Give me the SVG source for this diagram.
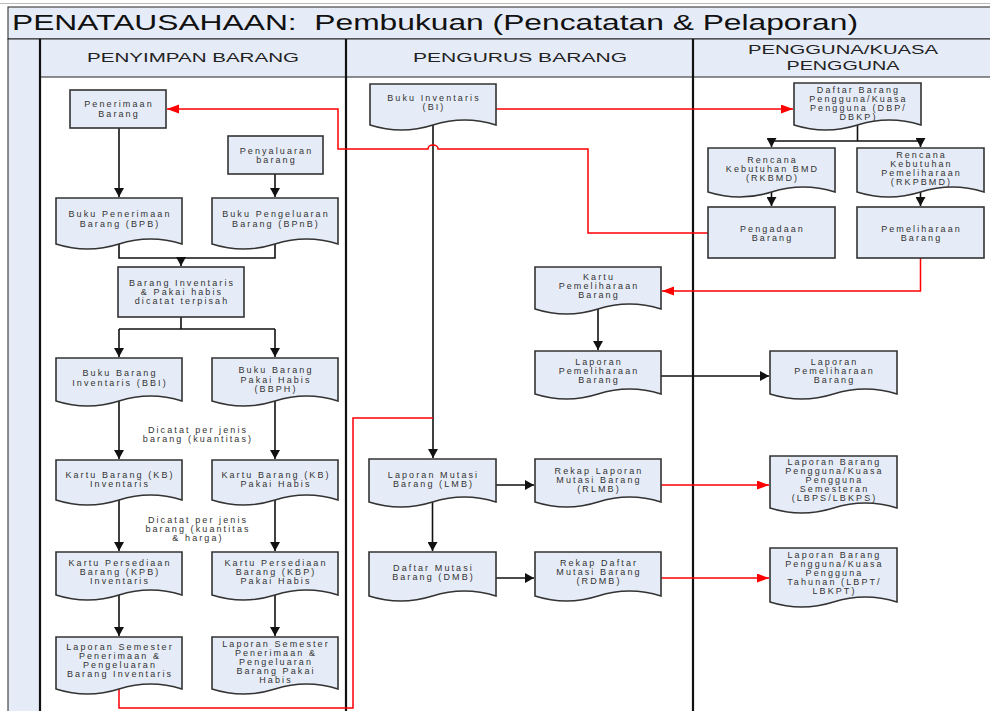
<svg xmlns="http://www.w3.org/2000/svg" width="990" height="711" viewBox="0 0 990 711">
<defs>
<style>
.t{font-family:"Liberation Sans",Arial,sans-serif;font-size:9px;letter-spacing:2.1px;fill:#333;text-anchor:middle}
.h{font-family:"Liberation Sans",Arial,sans-serif;font-size:12.8px;fill:#222;text-anchor:middle}
.node{fill:#e6ecf7;stroke:#333;stroke-width:1.6}
.k{fill:none;stroke:#111;stroke-width:1.6}
.r{fill:none;stroke:#ff0000;stroke-width:1.5}
.lane{stroke:#111;stroke-width:2.2}
</style>
<marker id="ab" markerUnits="userSpaceOnUse" markerWidth="10" markerHeight="10" refX="9" refY="5" orient="auto"><path d="M0,0 L9,5 L0,10 Z" fill="#111"/></marker>
<marker id="ar" markerUnits="userSpaceOnUse" markerWidth="12" markerHeight="10" refX="12" refY="4.5" orient="auto"><path d="M0,0 L12,4.5 L0,9 Z" fill="#ff0000"/></marker>
</defs>
<rect x="0" y="0" width="990" height="711" fill="#fff"/>
<g id="frame">
<line x1="0" y1="3.5" x2="990" y2="3.5" stroke="#bbb" stroke-width="1"/>
<rect x="8" y="7" width="990" height="32" fill="#e6ecf7" stroke="#222" stroke-width="1"/>
<rect x="8" y="39" width="32" height="680" fill="#e6ecf7" stroke="#222" stroke-width="1"/>
<rect x="40" y="39" width="960" height="38" fill="#e6ecf7" stroke="#222" stroke-width="1"/>
<line class="lane" x1="40" y1="39" x2="40" y2="711"/>
<line class="lane" x1="346" y1="39" x2="346" y2="711"/>
<line class="lane" x1="693" y1="39" x2="693" y2="711"/>
<text x="12" y="30" font-family="Liberation Sans,Arial,sans-serif" font-size="22" fill="#111" xml:space="preserve" textLength="846" lengthAdjust="spacingAndGlyphs">PENATAUSAHAAN:  Pembukuan (Pencatatan &amp; Pelaporan)</text>
<text class="h" x="193" y="62" textLength="212" lengthAdjust="spacingAndGlyphs">PENYIMPAN BARANG</text>
<text class="h" x="520" y="62" textLength="214" lengthAdjust="spacingAndGlyphs">PENGURUS BARANG</text>
<text class="h" x="843" y="54" textLength="190" lengthAdjust="spacingAndGlyphs">PENGGUNA/KUASA</text>
<text class="h" x="843" y="69.5" textLength="113" lengthAdjust="spacingAndGlyphs">PENGGUNA</text>
</g>
<g id="connectors">
<path class="k" d="M119,128 V197" marker-end="url(#ab)"/>
<path class="k" d="M275,174 V197" marker-end="url(#ab)"/>
<path class="k" d="M119,244 V258 H275 V244"/>
<path class="k" d="M181,258 V266" marker-end="url(#ab)"/>
<path class="k" d="M181,317 V329 M119,329 H275"/>
<path class="k" d="M119,329 V357" marker-end="url(#ab)"/>
<path class="k" d="M275,329 V357" marker-end="url(#ab)"/>
<path class="k" d="M119,401 V459" marker-end="url(#ab)"/>
<path class="k" d="M275,401 V459" marker-end="url(#ab)"/>
<path class="k" d="M119,500 V551" marker-end="url(#ab)"/>
<path class="k" d="M275,500 V551" marker-end="url(#ab)"/>
<path class="k" d="M119,595 V636" marker-end="url(#ab)"/>
<path class="k" d="M275,595 V636" marker-end="url(#ab)"/>
<path class="k" d="M433,125 V458" stroke="#333" stroke-width="2" marker-end="url(#ab)"/>
<path class="k" d="M598,309 V350" marker-end="url(#ab)"/>
<path class="k" d="M661,376 H769" stroke="#444" marker-end="url(#ab)"/>
<path class="k" d="M496,485 H534" marker-end="url(#ab)"/>
<path class="k" d="M432.5,502 V551" marker-end="url(#ab)"/>
<path class="k" d="M496,578 H534" marker-end="url(#ab)"/>
<path class="k" d="M857.5,125 V141 M771.5,141 H920.5"/>
<path class="k" d="M771.5,141 V147" marker-end="url(#ab)"/>
<path class="k" d="M920.5,141 V147" marker-end="url(#ab)"/>
<path class="k" d="M771.5,192 V206" marker-end="url(#ab)"/>
<path class="k" d="M920.5,192 V206" marker-end="url(#ab)"/>
<path class="r" d="M708,233 H588 V149 H438 A5,4 0 0 0 428,149 H338 V109 H167" marker-end="url(#ar)"/>
<path class="r" d="M496,109 H793" marker-end="url(#ar)"/>
<path class="r" d="M920.5,258 V291 H662" marker-end="url(#ar)"/>
<path class="r" d="M119,689 V708 H353 V418 H433"/>
<path class="r" d="M661,485 H769" marker-end="url(#ar)"/>
<path class="r" d="M661,578 H769" marker-end="url(#ar)"/>
</g>
<g id="n-penerimaan"><rect class="node" x="70" y="90" width="96" height="38"/><text class="t" x="119" y="107">Penerimaan</text><text class="t" x="119" y="117">Barang</text></g>
<g id="n-penyaluaran"><rect class="node" x="228" y="136" width="95" height="38"/><text class="t" x="276.5" y="154">Penyaluaran</text><text class="t" x="276.5" y="163">barang</text></g>
<g id="n-bpb"><path class="node" d="M56,198 H182 V244 Q150.5,234 119,244 T56,244 Z"/><text class="t" x="120" y="217">Buku Penerimaan</text><text class="t" x="120" y="227">Barang (BPB)</text></g>
<g id="n-bpnb"><path class="node" d="M212,198 H338 V244 Q306.5,234 275,244 T212,244 Z"/><text class="t" x="276" y="217">Buku Pengeluaran</text><text class="t" x="276" y="227">Barang (BPnB)</text></g>
<g id="n-terpisah"><rect class="node" x="118" y="267" width="126" height="50"/><text class="t" x="182" y="286">Barang Inventaris</text><text class="t" x="182" y="295">&amp; Pakai habis</text><text class="t" x="182" y="304">dicatat terpisah</text></g>
<g id="n-bbi"><path class="node" d="M56,358 H182 V401 Q150.5,391 119,401 T56,401 Z"/><text class="t" x="120" y="376">Buku Barang</text><text class="t" x="120" y="386">Inventaris (BBI)</text></g>
<g id="n-bbph"><path class="node" d="M212,358 H338 V401 Q306.5,391 275,401 T212,401 Z"/><text class="t" x="276" y="373">Buku Barang</text><text class="t" x="276" y="383">Pakai Habis</text><text class="t" x="276" y="392">(BBPH)</text></g>
<g id="label-1"><text class="t" x="198" y="433">Dicatat per jenis</text><text class="t" x="198" y="442">barang (kuantitas)</text></g>
<g id="n-kb-inv"><path class="node" d="M56,460 H182 V500 Q150.5,490 119,500 T56,500 Z"/><text class="t" x="120" y="478">Kartu Barang (KB)</text><text class="t" x="120" y="487">Inventaris</text></g>
<g id="n-kb-ph"><path class="node" d="M212,460 H338 V500 Q306.5,490 275,500 T212,500 Z"/><text class="t" x="276" y="478">Kartu Barang (KB)</text><text class="t" x="276" y="487">Pakai Habis</text></g>
<g id="label-2"><text class="t" x="198" y="523">Dicatat per jenis</text><text class="t" x="198" y="532">barang (kuantitas</text><text class="t" x="198" y="541">&amp; harga)</text></g>
<g id="n-kpb"><path class="node" d="M56,552 H182 V595 Q150.5,585 119,595 T56,595 Z"/><text class="t" x="120" y="566">Kartu Persediaan</text><text class="t" x="120" y="575">Barang (KPB)</text><text class="t" x="120" y="584">Inventaris</text></g>
<g id="n-kbp"><path class="node" d="M212,552 H338 V595 Q306.5,585 275,595 T212,595 Z"/><text class="t" x="276" y="566">Kartu Persediaan</text><text class="t" x="276" y="575">Barang (KBP)</text><text class="t" x="276" y="584">Pakai Habis</text></g>
<g id="n-ls-inv"><path class="node" d="M56,637 H182 V689 Q150.5,679 119,689 T56,689 Z"/><text class="t" x="120" y="650">Laporan Semester</text><text class="t" x="120" y="659">Penerimaan &amp;</text><text class="t" x="120" y="668">Pengeluaran</text><text class="t" x="120" y="677">Barang Inventaris</text></g>
<g id="n-ls-ph"><path class="node" d="M212,637 H338 V689 Q306.5,679 275,689 T212,689 Z"/><text class="t" x="276" y="646.5">Laporan Semester</text><text class="t" x="276" y="655.5">Penerimaan &amp;</text><text class="t" x="276" y="664.5">Pengeluaran</text><text class="t" x="276" y="673.5">Barang Pakai</text><text class="t" x="276" y="682.5">Habis</text></g>
<g id="n-bi"><path class="node" d="M370,84 H496 V125 Q464.5,115 433,125 T370,125 Z"/><text class="t" x="434" y="101">Buku Inventaris</text><text class="t" x="434" y="110">(BI)</text></g>
<g id="n-kartu-pem"><path class="node" d="M535,267 H661 V309 Q629.5,299 598,309 T535,309 Z"/><text class="t" x="599" y="280">Kartu</text><text class="t" x="599" y="289">Pemeliharaan</text><text class="t" x="599" y="298">Barang</text></g>
<g id="n-lap-pem-2"><path class="node" d="M535,351 H661 V394 Q629.5,384 598,394 T535,394 Z"/><text class="t" x="599" y="365">Laporan</text><text class="t" x="599" y="374">Pemeliharaan</text><text class="t" x="599" y="383">Barang</text></g>
<g id="n-lmb"><path class="node" d="M369,459 H496 V502 Q464.25,492 432.5,502 T369,502 Z"/><text class="t" x="433.5" y="478">Laporan Mutasi</text><text class="t" x="433.5" y="487">Barang (LMB)</text></g>
<g id="n-rlmb"><path class="node" d="M535,459 H661 V502 Q629.5,492 598,502 T535,502 Z"/><text class="t" x="599" y="474">Rekap Laporan</text><text class="t" x="599" y="483">Mutasi Barang</text><text class="t" x="599" y="492">(RLMB)</text></g>
<g id="n-dmb"><path class="node" d="M369,552 H496 V596 Q464.25,586 432.5,596 T369,596 Z"/><text class="t" x="433.5" y="571">Daftar Mutasi</text><text class="t" x="433.5" y="580">Barang (DMB)</text></g>
<g id="n-rdmb"><path class="node" d="M535,552 H661 V596 Q629.5,586 598,596 T535,596 Z"/><text class="t" x="599" y="566">Rekap Daftar</text><text class="t" x="599" y="575">Mutasi Barang</text><text class="t" x="599" y="584">(RDMB)</text></g>
<g id="n-dbp"><path class="node" d="M794,83 H921 V125 Q889.25,115 857.5,125 T794,125 Z"/><text class="t" x="858.5" y="93">Daftar Barang</text><text class="t" x="858.5" y="102">Pengguna/Kuasa</text><text class="t" x="858.5" y="111">Pengguna (DBP/</text><text class="t" x="858.5" y="120">DBKP)</text></g>
<g id="n-rkbmd"><path class="node" d="M708,148 H835 V192 Q803.25,182 771.5,192 T708,192 Z"/><text class="t" x="772.5" y="163">Rencana</text><text class="t" x="772.5" y="172">Kebutuhan BMD</text><text class="t" x="772.5" y="181">(RKBMD)</text></g>
<g id="n-rkpbmd"><path class="node" d="M857,148 H984 V192 Q952.25,182 920.5,192 T857,192 Z"/><text class="t" x="921.5" y="158">Rencana</text><text class="t" x="921.5" y="167">Kebutuhan</text><text class="t" x="921.5" y="176">Pemeliharaan</text><text class="t" x="921.5" y="185">(RKPBMD)</text></g>
<g id="n-pengadaan"><rect class="node" x="708" y="207" width="127" height="51"/><text class="t" x="772.5" y="232">Pengadaan</text><text class="t" x="772.5" y="241">Barang</text></g>
<g id="n-pemeliharaan"><rect class="node" x="857" y="207" width="127" height="51"/><text class="t" x="921.5" y="232">Pemeliharaan</text><text class="t" x="921.5" y="241">Barang</text></g>
<g id="n-lap-pem-3"><path class="node" d="M770,351 H897 V394 Q865.25,384 833.5,394 T770,394 Z"/><text class="t" x="834.5" y="365">Laporan</text><text class="t" x="834.5" y="374">Pemeliharaan</text><text class="t" x="834.5" y="383">Barang</text></g>
<g id="n-lbps"><path class="node" d="M770,456 H897 V508 Q865.25,498 833.5,508 T770,508 Z"/><text class="t" x="834.5" y="465">Laporan Barang</text><text class="t" x="834.5" y="474">Pengguna/Kuasa</text><text class="t" x="834.5" y="483">Pengguna</text><text class="t" x="834.5" y="492">Semesteran</text><text class="t" x="834.5" y="501">(LBPS/LBKPS)</text></g>
<g id="n-lbpt"><path class="node" d="M770,548 H897 V602 Q865.25,592 833.5,602 T770,602 Z"/><text class="t" x="834.5" y="558">Laporan Barang</text><text class="t" x="834.5" y="567">Pengguna/Kuasa</text><text class="t" x="834.5" y="576">Pengguna</text><text class="t" x="834.5" y="585">Tahunan (LBPT/</text><text class="t" x="834.5" y="594">LBKPT)</text></g>
</svg>
